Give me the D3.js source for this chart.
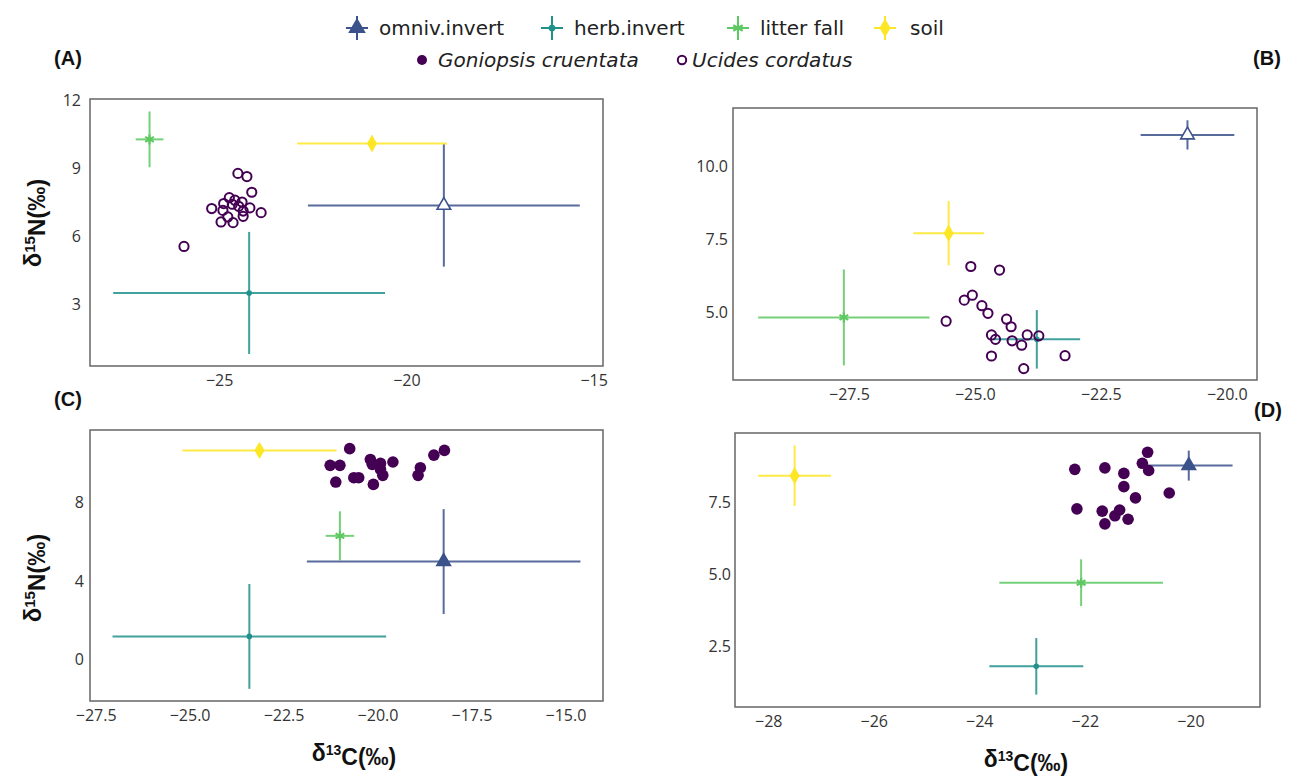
<!DOCTYPE html>
<html>
<head>
<meta charset="utf-8">
<script src="https://cdn.jsdelivr.net/npm/d3@7"></script>
<style>
  body { margin: 0; background: #fff; }
  svg { display: block; }
  .tick text { font-family: "Open Sans", sans-serif; font-size: 16px; fill: #333; }
  .lbl { font-family: "Liberation Sans", Arial, sans-serif; font-weight: bold; fill: #111; }
  .leg { font-family: "DejaVu Sans", sans-serif; font-size: 20px; fill: #222; }
</style>
</head>
<body>
<svg id="chart" width="1298" height="778"></svg>
<script>
// Sources, in legend order
var sources = ["omniv.invert", "herb.invert", "litter fall", "soil"];
var crabs = ["Goniopsis cruentata", "Ucides cordatus"];

// Panel A (Ucides)
var aSrcX = [-19.0, -24.2, -26.86, -20.92];
var aSrcY = [7.35, 3.49, 10.26, 10.08];
var aSrcXErr = [3.63, 3.63, 0.37, 2.0];
var aSrcYErr = [2.7, 2.69, 1.23, 0.35];
var aCrabX = [-24.50, -24.26, -24.13, -25.20, -24.88, -24.73, -24.58, -24.39, -24.65, -24.48, -24.90, -24.36, -24.18, -23.88, -24.77, -24.36, -24.95, -24.63, -25.94];
var aCrabY = [8.76, 8.62, 7.93, 7.21, 7.43, 7.69, 7.58, 7.50, 7.40, 7.31, 7.13, 7.10, 7.24, 7.03, 6.84, 6.87, 6.62, 6.59, 5.54];

// Panel B (Ucides)
var bSrcX = [-20.78, -23.77, -27.6, -25.52];
var bSrcY = [11.08, 4.09, 4.84, 7.72];
var bSrcXErr = [0.93, 0.86, 1.7, 0.7];
var bSrcYErr = [0.5, 1.0, 1.64, 1.1];
var bCrabX = [-25.08, -24.51, -25.21, -25.05, -24.86, -24.74, -25.57, -24.37, -24.28, -24.67, -24.59, -24.26, -24.07, -23.96, -23.73, -24.67, -23.21, -24.03];
var bCrabY = [6.58, 6.46, 5.43, 5.60, 5.24, 4.98, 4.71, 4.78, 4.52, 4.24, 4.09, 4.04, 3.89, 4.24, 4.21, 3.52, 3.53, 3.09];

// Panel C (Goniopsis)
var cSrcX = [-18.24, -23.41, -21.0, -23.14];
var cSrcY = [5.0, 1.19, 6.31, 10.66];
var cSrcXErr = [3.64, 3.64, 0.38, 2.05];
var cSrcYErr = [2.67, 2.67, 1.25, 0.15];
var cCrabX = [-20.74, -21.26, -21.0, -21.11, -20.63, -20.5, -20.19, -20.14, -19.92, -19.92, -19.86, -20.11, -19.59, -18.92, -18.86, -18.5, -18.22];
var cCrabY = [10.75, 9.90, 9.90, 9.05, 9.27, 9.27, 10.20, 9.95, 10.0, 9.69, 9.39, 8.93, 10.07, 9.39, 9.78, 10.42, 10.66];

// Panel D (Goniopsis)
var dSrcX = [-20.03, -22.92, -22.07, -27.5];
var dSrcY = [8.77, 1.81, 4.71, 8.42];
var dSrcXErr = [0.83, 0.89, 1.55, 0.69];
var dSrcYErr = [0.52, 0.98, 0.81, 1.05];
var dCrabX = [-22.19, -21.62, -21.26, -20.91, -20.81, -20.79, -21.26, -21.04, -20.40, -22.15, -21.67, -21.34, -21.43, -21.18, -21.62];
var dCrabY = [8.64, 8.69, 8.50, 8.85, 9.23, 8.60, 8.04, 7.65, 7.82, 7.27, 7.19, 7.23, 7.03, 6.91, 6.75];

// Tick values
var aXTicks = [-25, -20, -15], aYTicks = [3, 6, 9, 12];
var bXTicks = [-27.5, -25, -22.5, -20], bYTicks = [5, 7.5, 10];
var cXTicks = [-27.5, -25, -22.5, -20, -17.5, -15], cYTicks = [0, 4, 8];
var dXTicks = [-28, -26, -24, -22, -20], dYTicks = [2.5, 5, 7.5];

var srcColors = ["#3b528b", "#21918c", "#5ec962", "#fde725"];
var crabColor = "#440154";

var svg = d3.select("#chart");

var panels = [
  {name: "(A)", box: [90, 99, 603, 366], xd: [-28.45, -14.75], yd: [0.27, 12.04], xt: aXTicks, yt: aYTicks, xf: d3.format("d"), yf: d3.format("d"),
   sx: aSrcX, sy: aSrcY, ex: aSrcXErr, ey: aSrcYErr, cx: aCrabX, cy: aCrabY, filled: false, lab: [68, 58], yTickX: 81},
  {name: "(B)", box: [733, 108, 1257, 380], xd: [-29.8, -19.4], yd: [2.7, 12.0], xt: bXTicks, yt: bYTicks, xf: d3.format(".1f"), yf: d3.format(".1f"),
   sx: bSrcX, sy: bSrcY, ex: bSrcXErr, ey: bSrcYErr, cx: bCrabX, cy: bCrabY, filled: false, lab: [1267, 58], yTickX: 728},
  {name: "(C)", box: [90, 430, 603, 701], xd: [-27.65, -14.0], yd: [-2.1, 11.7], xt: cXTicks, yt: cYTicks, xf: d3.format(".1f"), yf: d3.format("d"),
   sx: cSrcX, sy: cSrcY, ex: cSrcXErr, ey: cSrcYErr, cx: cCrabX, cy: cCrabY, filled: true, lab: [68, 399], yTickX: 84},
  {name: "(D)", box: [735, 433, 1260, 707], xd: [-28.63, -18.68], yd: [0.4, 9.9], xt: dXTicks, yt: dYTicks, xf: d3.format("d"), yf: d3.format(".1f"),
   sx: dSrcX, sy: dSrcY, ex: dSrcXErr, ey: dSrcYErr, cx: dCrabX, cy: dCrabY, filled: true, lab: [1268, 410], yTickX: 731}
];

// marker for a source, drawn at 0,0
var drawSource = function(g, i, filled, big) {
  var s = big ? 1.2 : 1;
  if (i == 0) {
    g.append("path").attr("d", d3.symbol(d3.symbolTriangle, 80 * s)())
      .attr("fill", filled ? srcColors[0] : "#fff").attr("stroke", srcColors[0]).attr("stroke-width", 1.6);
  } else if (i == 1) {
    g.append("circle").attr("r", 2.8 * s).attr("fill", srcColors[1]);
  } else if (i == 2) {
    g.append("path").attr("d", d3.symbol(d3.symbolAsterisk, 70 * s)())
      .attr("fill", "none").attr("stroke", srcColors[2]).attr("stroke-width", 2.2);
  } else {
    g.append("path").attr("d", d3.symbol(d3.symbolDiamond, 70 * s)())
      .attr("fill", srcColors[3]).attr("stroke", srcColors[3]).attr("stroke-width", 1);
  }
};

panels.forEach(function(p) {
  var x = d3.scaleLinear().domain(p.xd).range([p.box[0], p.box[2]]);
  var y = d3.scaleLinear().domain(p.yd).range([p.box[3], p.box[1]]);
  var g = svg.append("g");

  // axes, no tick lines
  var xa = g.append("g").attr("transform", "translate(0," + p.box[3] + ")")
    .call(d3.axisBottom(x).tickValues(p.xt).tickFormat(p.xf).tickSize(0).tickPadding(9));
  var ya = g.append("g").attr("transform", "translate(" + p.yTickX + ",0)")
    .call(d3.axisLeft(y).tickValues(p.yt).tickFormat(p.yf).tickSize(0).tickPadding(0));
  xa.select(".domain").remove();
  ya.select(".domain").remove();

  // frame
  g.append("rect").attr("x", p.box[0]).attr("y", p.box[1])
    .attr("width", p.box[2] - p.box[0]).attr("height", p.box[3] - p.box[1])
    .attr("fill", "none").attr("stroke", "#666").attr("stroke-width", 1.5);

  // error bars
  p.sx.forEach(function(v, i) {
    var c = srcColors[i];
    g.append("line").attr("x1", x(v - p.ex[i])).attr("x2", x(v + p.ex[i]))
      .attr("y1", y(p.sy[i])).attr("y2", y(p.sy[i]))
      .attr("stroke", c).attr("stroke-width", 2).attr("opacity", 0.85);
    g.append("line").attr("x1", x(v)).attr("x2", x(v))
      .attr("y1", y(p.sy[i] - p.ey[i])).attr("y2", y(p.sy[i] + p.ey[i]))
      .attr("stroke", c).attr("stroke-width", 2).attr("opacity", 0.85);
  });

  // source means
  p.sx.forEach(function(v, i) {
    var m = g.append("g").attr("transform", "translate(" + x(v) + "," + y(p.sy[i]) + ")");
    drawSource(m, i, p.filled, false);
  });

  // crab points
  g.selectAll("circle.crab").data(p.cx).enter().append("circle")
    .attr("class", "crab")
    .attr("cx", function(d) { return x(d); })
    .attr("cy", function(d, i) { return y(p.cy[i]); })
    .attr("r", p.filled ? 5.8 : 4.6)
    .attr("fill", p.filled ? crabColor : "none")
    .attr("stroke", crabColor).attr("stroke-width", p.filled ? 0 : 2);

  svg.append("text").attr("class", "lbl").attr("x", p.lab[0]).attr("y", p.lab[1])
    .attr("text-anchor", "middle").attr("dy", "0.35em").style("font-size", "20px").text(p.name);
});

// axis titles
var yTitle = function(cx, cy) {
  var t = svg.append("text").attr("class", "lbl").style("font-size", "24px")
    .attr("text-anchor", "middle")
    .attr("transform", "translate(" + cx + "," + cy + ") rotate(-90)").attr("dy", "0.35em");
  t.append("tspan").text("δ");
  t.append("tspan").attr("dy", "-0.45em").style("font-size", "15px").text("15");
  t.append("tspan").attr("dy", "0.45em").text("N(‰)");
};
var xTitle = function(cx, cy) {
  var t = svg.append("text").attr("class", "lbl").style("font-size", "23px")
    .attr("text-anchor", "middle").attr("x", cx).attr("y", cy).attr("dy", "0.35em");
  t.append("tspan").text("δ");
  t.append("tspan").attr("dy", "-0.45em").style("font-size", "14px").text("13");
  t.append("tspan").attr("dy", "0.45em").text("C(‰)");
};
yTitle(33, 223);
yTitle(33, 578);
xTitle(354, 753);
xTitle(1026, 759);

// legend
var legX = [357, 552, 738, 885];
sources.forEach(function(s, i) {
  var lg = svg.append("g").attr("transform", "translate(" + legX[i] + ",28)");
  lg.append("line").attr("x1", -11).attr("x2", 11).attr("stroke", srcColors[i]).attr("stroke-width", 2);
  lg.append("line").attr("y1", -12).attr("y2", 12).attr("stroke", srcColors[i]).attr("stroke-width", 2);
  drawSource(lg, i, true, true);
  svg.append("text").attr("class", "leg").attr("x", legX[i] + (i == 3 ? 25 : 22)).attr("y", 28)
    .attr("dy", "0.35em").text(s);
});
var crabLegX = [422, 682];
crabs.forEach(function(s, i) {
  svg.append("circle").attr("cx", crabLegX[i]).attr("cy", 60).attr("r", i == 0 ? 5 : 4.2)
    .attr("fill", i == 0 ? crabColor : "none").attr("stroke", crabColor).attr("stroke-width", i == 0 ? 0 : 2);
  svg.append("text").attr("class", "leg").attr("x", crabLegX[i] + (i == 0 ? 16 : 10)).attr("y", 60)
    .attr("dy", "0.35em").style("font-style", "italic").text(s);
});
</script>
</body>
</html>
